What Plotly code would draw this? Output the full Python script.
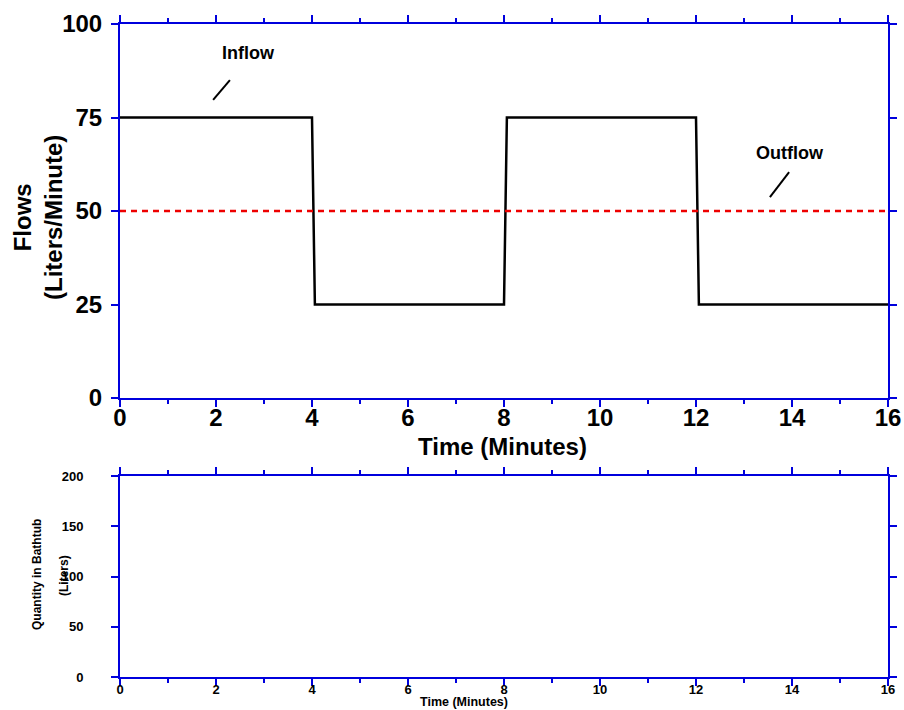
import plotly.graph_objects as go

# ---- data ----
time_in = [0, 4, 4.06, 8, 8.06, 12, 12.06, 16]
inflow = [75, 75, 25, 25, 75, 75, 25, 25]
time_out = [0, 16]
outflow = [50, 50]
x_ticks = [0, 2, 4, 6, 8, 10, 12, 14, 16]
x_minor = [1, 3, 5, 7, 9, 11, 13, 15]
top_y_ticks = [0, 25, 50, 75, 100]
bot_y_ticks = [0, 50, 100, 150, 200]

W, H = 904, 710
def px(x):
    return x / W
def py(y):
    return 1 - y / H

BLUE = "#0000DD"
FONT = "Liberation Sans, Arial, sans-serif"

fig = go.Figure()
fig.add_trace(go.Scatter(x=time_in, y=inflow, mode="lines",
                         line=dict(color="black", width=2.5), xaxis="x", yaxis="y",
                         showlegend=False, hoverinfo="skip"))
fig.add_trace(go.Scatter(x=time_out, y=outflow, mode="lines",
                         line=dict(color="#EE0000", width=2.5, dash="6px,5px"),
                         xaxis="x", yaxis="y", showlegend=False, hoverinfo="skip"))
# empty bottom panel
fig.add_trace(go.Scatter(x=[None], y=[None], mode="lines", xaxis="x2", yaxis="y2",
                         showlegend=False, hoverinfo="skip"))

def xaxis_cfg(domain, anchor, size, standoff):
    return dict(domain=domain, anchor=anchor, range=[0, 16], tickvals=x_ticks,
                automargin=False, ticklabelstandoff=standoff,
                showgrid=False, zeroline=False, showline=True, linecolor=BLUE,
                linewidth=2, mirror="ticks", ticks="outside", ticklen=7,
                tickwidth=2, tickcolor=BLUE,
                tickfont=dict(family=FONT, size=size, color="black", weight="bold"),
                minor=dict(tickvals=x_minor, ticks="outside",
                           ticklen=4, tickwidth=2, tickcolor=BLUE))

def yaxis_cfg(domain, anchor, rng, vals, size, standoff):
    return dict(domain=domain, anchor=anchor, range=rng, tickvals=vals,
                automargin=False, ticklabelstandoff=standoff,
                showgrid=False, zeroline=False, showline=True, linecolor=BLUE,
                linewidth=2, mirror="ticks", ticks="outside", ticklen=7,
                tickwidth=2, tickcolor=BLUE,
                tickfont=dict(family=FONT, size=size, color="black", weight="bold"))

fig.update_layout(
    width=W, height=H, margin=dict(l=0, r=0, t=0, b=0),
    paper_bgcolor="white", plot_bgcolor="white",
    xaxis=xaxis_cfg([px(120), px(888)], "y", 24, -10),
    yaxis=yaxis_cfg([py(398), py(24)], "x", [0, 100], top_y_ticks, 24, 4),
    xaxis2=xaxis_cfg([px(120), px(888)], "y2", 13, -8),
    yaxis2=yaxis_cfg([py(677), py(476)], "x2", [0, 200], bot_y_ticks, 13, 25),
)

def txt(s, x, y, size, angle=0, xref="paper", yref="paper"):
    return dict(text=s, x=x, y=y, xref=xref, yref=yref, showarrow=False,
                xanchor="center", yanchor="middle", textangle=angle,
                font=dict(family=FONT, size=size, color="black"))

ann = [
    txt("<b>Time (Minutes)</b>", px(502), py(446), 24),
    txt("<b>Flows<br>(Liters/Minute)</b>", px(38), py(218), 24, -90),
    txt("<b>Time (Minutes)</b>", px(464), py(702), 12.5),
    txt("<b>Quantity in Bathtub</b>", px(37), py(575), 12, -90),
    txt("<b>(Liters)</b>", px(64), py(576), 12, -90),
    txt("<b>Inflow</b>", 2.67, 92.2, 18, 0, "x", "y"),
    txt("<b>Outflow</b>", 13.96, 65.5, 18, 0, "x", "y"),
]
fig.update_layout(annotations=ann)

fig.add_shape(type="line", x0=1.94, y0=79.7, x1=2.29, y1=85.0, xref="x", yref="y",
              line=dict(color="black", width=2))
fig.add_shape(type="line", x0=13.54, y0=53.7, x1=13.94, y1=60.4, xref="x", yref="y",
              line=dict(color="black", width=2))

fig.write_html("out.html", config={"displayModeBar": False},
               post_script="document.body.style.margin='0';document.body.style.overflow='hidden';")
